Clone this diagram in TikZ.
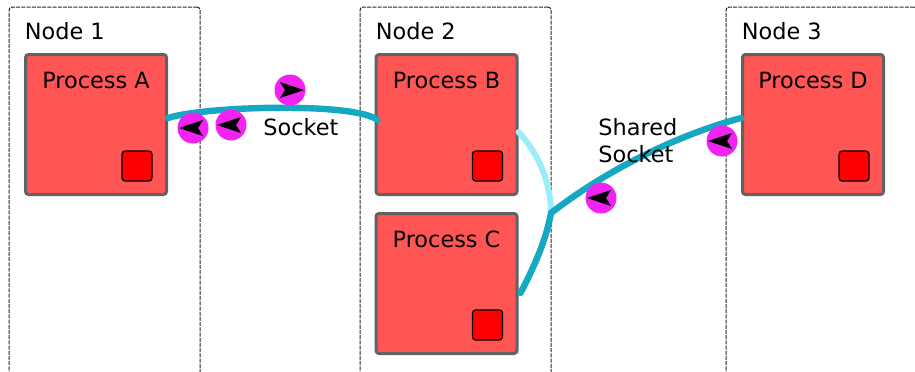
\documentclass[tikz,border=0pt]{standalone}
\usepackage{fontspec}
\setmainfont{DejaVu Sans}
\usetikzlibrary{positioning}
\usetikzlibrary{calc}
\definecolor{procfill}{HTML}{FF5555}
\definecolor{procline}{HTML}{626262}
\definecolor{sockteal}{HTML}{14A8C2}
\definecolor{socklight}{HTML}{9CECFA}
\definecolor{markmag}{HTML}{F222F2}

\begin{document}
\begin{tikzpicture}[x=0.5pt, y=-0.5pt,
        every node/.style={font=\fontsize{11.2}{13.6}\selectfont},
        machine/.style={draw=black!85, line width=0.5pt, dash pattern=on 2pt off 0.6pt, rounded corners=1.5pt, minimum width=95.5pt, minimum height=191.5pt, inner sep=0pt},
        proc/.style={draw=procline, line width=1.5pt, fill=procfill, rounded corners=1.5pt, minimum width=70.5pt, minimum height=70pt, inner sep=0pt},
        endpt/.style={draw=black, line width=0.6pt, fill=red, rounded corners=1.5pt, minimum size=15pt, inner sep=0pt},
        link/.style={draw=sockteal, line width=3.2pt, line cap=round},
        marker/.style={circle, fill=markmag, minimum size=15.5pt, inner sep=0pt}]
        \useasboundingbox (0,0) rectangle (915,371);

        % cluster nodes
        \node [machine] (node1) at (104.5,198.5) {};
        \node [machine] (node2) at (455.5,198.5) {};
        \node [machine] (node3) at (821.5,198.5) {};
        \node [anchor=base west, inner sep=0pt] at ($(node1.north west)+(16,33)$) {Node 1};
        \node [anchor=base west, inner sep=0pt] at ($(node2.north west)+(16,33)$) {Node 2};
        \node [anchor=base west, inner sep=0pt] at ($(node3.north west)+(16,33)$) {Node 3};

        % processes
        \node [proc] (procA) at (96,124.5) {};
        \node [proc] (procB) at (446.5,124.5) {};
        \node [proc, below=8pt of procB] (procC) {};
        \node [proc] (procD) at (813,124.5) {};
        \foreach \p/\t in {A/Process A, B/Process B, C/Process C, D/Process D} {
            \node [anchor=base] at ($(proc\p.north)+(0,35)$) {\t};
            \node [endpt] (end\p) at ($(proc\p.south east)+(-31,-30)$) {};
        }

        % sockets
        \coordinate (sA) at ($(procA.east)+(0,-6.5)$);
        \coordinate (sB) at ($(procB.west)+(3,-4.5)$);
        \coordinate (sBx) at ($(procB.east)+(0,7.5)$);
        \coordinate (sC) at ($(procC.east)+(2,9.5)$);
        \coordinate (sD) at ($(procD.west)+(0,-6.5)$);
        \coordinate (junc) at (551,213);

        \draw [link] (sA) .. controls (205,106) and (355,102) .. (sB);
        \draw [link, draw=socklight, line width=3pt] (sBx) .. controls (540,155) and (551,185) .. (junc);
        \draw [link] (sC) .. controls (535,265) and (546,240) .. (junc) .. controls (600,175) and (670,137) .. (sD);

        % message markers
        \foreach \m/\pos/\ang in {1/{(290,90)}/0, 2/{(193,128)}/180, 3/{(231,125)}/180, 4/{(601,198)}/180, 5/{(722,141)}/180} {
            \node [marker] (mk\m) at \pos {};
            \fill [black, shift={(mk\m.center)}, rotate=\ang] (7pt,0pt) -- (-5pt,4pt) -- (-2.5pt,0pt) -- (-5pt,-4pt) -- cycle;
        }

        \node [anchor=base west, inner sep=0pt] (sockLbl) at (263,135) {Socket};
        \node [anchor=north west, align=left, inner sep=0pt] (sharedLbl) at (598,118) {Shared\\Socket};
\end{tikzpicture}
\end{document}
